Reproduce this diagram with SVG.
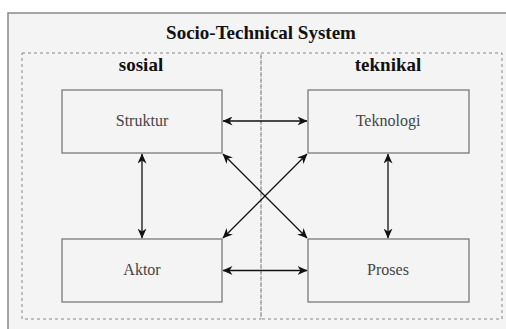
<svg xmlns="http://www.w3.org/2000/svg" width="506" height="329" viewBox="0 0 506 329">
<style>
.box{fill:#f4f4f4;stroke:#7a7a7a;stroke-width:1.3}
.lbl{font-family:"Liberation Serif","Times New Roman","DejaVu Serif",serif;font-size:16px;fill:#444;text-anchor:middle}
.hdr{font-family:"Liberation Serif","Times New Roman","DejaVu Serif",serif;font-size:19px;font-weight:bold;fill:#111;text-anchor:middle}
.grp{fill:none;stroke:#888;stroke-width:1;stroke-dasharray:3 3}
.con{stroke:#111;stroke-width:1.3;fill:none;marker-start:url(#a);marker-end:url(#a)}
</style>
<defs>
<marker id="a" viewBox="0 0 10 10" refX="9.5" refY="5" markerWidth="10" markerHeight="9" orient="auto-start-reverse" markerUnits="userSpaceOnUse" preserveAspectRatio="none">
<path d="M0,0 L10,5 L0,10 L3,5 Z" fill="#111"/>
</marker>
</defs>
<rect width="506" height="329" fill="#ffffff"/>
<g id="system">
<rect x="8" y="13" width="510" height="330" fill="#f4f4f4" stroke="#888" stroke-width="1.5"/>
<text class="hdr" x="261" y="39">Socio-Technical System</text>
</g>
<g id="sosial">
<rect class="grp" x="22" y="53" width="239" height="266"/>
<text class="hdr" x="141" y="71">sosial</text>
</g>
<g id="teknikal">
<rect class="grp" x="261" y="53" width="241" height="266"/>
<text class="hdr" x="388" y="71">teknikal</text>
</g>
<g id="struktur">
<rect class="box" x="62" y="90" width="160" height="63"/>
<text class="lbl" x="142" y="126">Struktur</text>
</g>
<g id="teknologi">
<rect class="box" x="308" y="90" width="161" height="63"/>
<text class="lbl" x="388" y="126">Teknologi</text>
</g>
<g id="aktor">
<rect class="box" x="62" y="239" width="160" height="63"/>
<text class="lbl" x="142" y="275">Aktor</text>
</g>
<g id="proses">
<rect class="box" x="308" y="239" width="161" height="63"/>
<text class="lbl" x="388" y="275">Proses</text>
</g>
<g id="connectors">
<line class="con" x1="223" y1="121" x2="307" y2="121"/>
<line class="con" x1="223" y1="270.5" x2="307" y2="270.5"/>
<line class="con" x1="142" y1="154" x2="142" y2="238"/>
<line class="con" x1="388" y1="154" x2="388" y2="238"/>
<line class="con" x1="223" y1="154" x2="307" y2="238"/>
<line class="con" x1="307" y1="154" x2="223" y2="238"/>
</g>
</svg>
